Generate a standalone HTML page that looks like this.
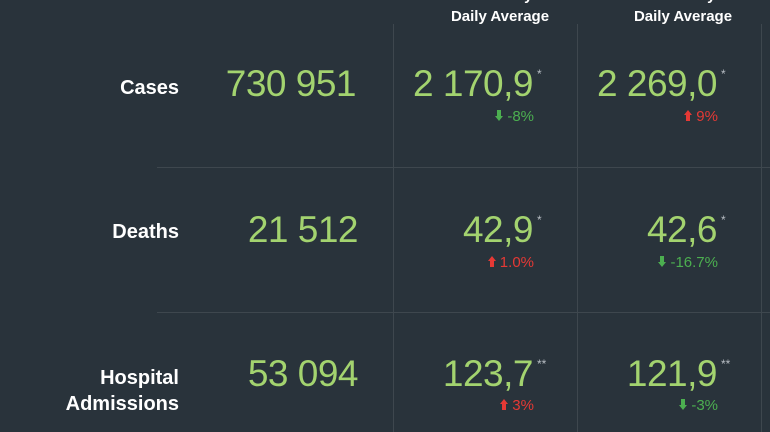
<!DOCTYPE html>
<html><head><meta charset="utf-8"><style>
html,body{margin:0;padding:0;}
body{width:770px;height:432px;background:#29333b;position:relative;overflow:hidden;font-family:"Liberation Sans",sans-serif;}
.vl{position:absolute;top:24px;bottom:0;width:1px;background:#3e474e;}
.hl{position:absolute;left:157px;right:0;height:1px;background:#3e474e;}
.t{position:absolute;white-space:nowrap;line-height:1;}
.lab{color:#fff;font-weight:bold;font-size:20px;text-align:right;right:591px;}
.hd{color:#fff;font-weight:bold;font-size:15px;text-align:center;width:200px;}
.big{color:#a3d36f;font-size:37px;letter-spacing:-0.5px;text-align:right;}
.ast{color:#b8bec4;font-size:12px;}
.pc{font-size:15px;text-align:right;}
.g{color:#4caf50;}.r{color:#e53935;}
</style></head><body>
<div class="vl" style="left:393px"></div>
<div class="vl" style="left:577px"></div>
<div class="vl" style="left:761px"></div>
<div class="hl" style="top:167px"></div>
<div class="hl" style="top:312px"></div>

<div class="t hd" style="left:400px;top:-12px">Last 7 days</div>
<div class="t hd" style="left:583px;top:-12px">Last 7 days</div>
<div class="t hd" style="left:400px;top:9px">Daily Average</div>
<div class="t hd" style="left:583px;top:9px">Daily Average</div>

<div class="t lab" style="top:78px">Cases</div>
<div class="t lab" style="top:222px">Deaths</div>
<div class="t lab" style="top:368px">Hospital</div>
<div class="t lab" style="top:394px">Admissions</div>

<div class="t big" style="right:414px;top:65px">730 951</div>
<div class="t big" style="right:412px;top:211px">21 512</div>
<div class="t big" style="right:412px;top:355px">53 094</div>

<div class="t big" style="right:237px;top:65px">2 170,9</div><div class="t ast" style="left:537px;top:68px">*</div>
<div class="t big" style="right:53px;top:65px">2 269,0</div><div class="t ast" style="left:721px;top:68px">*</div>
<div class="t big" style="right:237px;top:211px">42,9</div><div class="t ast" style="left:537px;top:214px">*</div>
<div class="t big" style="right:53px;top:211px">42,6</div><div class="t ast" style="left:721px;top:214px">*</div>
<div class="t big" style="right:237px;top:355px">123,7</div><div class="t ast" style="left:537px;top:358px">**</div>
<div class="t big" style="right:53px;top:355px">121,9</div><div class="t ast" style="left:721px;top:358px">**</div>

<div class="t pc g" style="right:236px;top:109px"><svg width="8" height="11" viewBox="0 0 8 11"><path d="M2 0h4v6h2L4 11 0 6h2z" fill="#4caf50"/></svg> -8%</div>
<div class="t pc r" style="right:52px;top:109px"><svg width="8" height="11" viewBox="0 0 8 11"><path d="M2 11h4V5h2L4 0 0 5h2z" fill="#e53935"/></svg> 9%</div>
<div class="t pc r" style="right:236px;top:255px"><svg width="8" height="11" viewBox="0 0 8 11"><path d="M2 11h4V5h2L4 0 0 5h2z" fill="#e53935"/></svg> 1.0%</div>
<div class="t pc g" style="right:52px;top:255px"><svg width="8" height="11" viewBox="0 0 8 11"><path d="M2 0h4v6h2L4 11 0 6h2z" fill="#4caf50"/></svg> -16.7%</div>
<div class="t pc r" style="right:236px;top:398px"><svg width="8" height="11" viewBox="0 0 8 11"><path d="M2 11h4V5h2L4 0 0 5h2z" fill="#e53935"/></svg> 3%</div>
<div class="t pc g" style="right:52px;top:398px"><svg width="8" height="11" viewBox="0 0 8 11"><path d="M2 0h4v6h2L4 11 0 6h2z" fill="#4caf50"/></svg> -3%</div>
</body></html>
